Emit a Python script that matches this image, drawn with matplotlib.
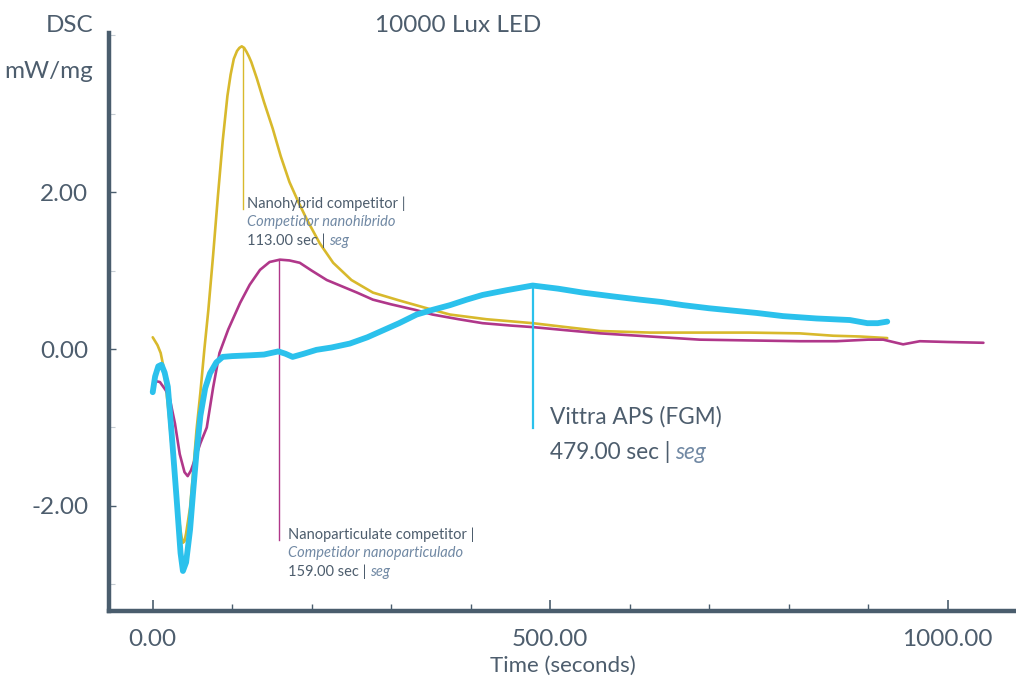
import matplotlib
matplotlib.use("Agg")
import matplotlib.pyplot as plt
from matplotlib.ticker import MultipleLocator
import numpy as np

plt.rcParams['font.family'] = ['Lato', 'DejaVu Sans']

# ---------------- data ----------------
nano_hybrid_t = [0, 6, 10, 14, 20, 26, 32, 36, 38, 40, 42, 47, 51, 55, 60, 65, 70, 76, 82, 88, 94,
                 98, 102, 106, 109, 112, 115, 118, 121, 124, 131, 140, 151, 161, 172, 183, 194,
                 210, 227, 250, 277, 310, 352, 374, 420, 478, 520, 563, 626, 688, 750, 814, 856,
                 890, 924]
nano_hybrid_y = [0.15, 0.05, -0.05, -0.25, -0.8, -1.5, -2.1, -2.38, -2.47, -2.45, -2.35, -2.02,
                 -1.55, -1.04, -0.55, 0.0, 0.5, 1.2, 1.95, 2.65, 3.23, 3.5, 3.7, 3.8, 3.84, 3.86,
                 3.84, 3.79, 3.73, 3.66, 3.45, 3.15, 2.81, 2.46, 2.13, 1.88, 1.65, 1.35, 1.10,
                 0.88, 0.72, 0.62, 0.50, 0.44, 0.38, 0.33, 0.28, 0.23, 0.21, 0.21, 0.21, 0.20,
                 0.17, 0.16, 0.14]

nano_part_t = [4, 9, 16, 21, 28, 34, 40, 44, 48, 54, 60, 68, 76, 84, 95, 110, 122, 135, 147, 160,
               172, 185, 200, 219, 238, 257, 277, 300, 330, 352, 385, 415, 450, 478, 520, 563,
               626, 688, 750, 814, 860, 900, 919, 944, 965, 1000, 1045]
nano_part_y = [-0.41, -0.42, -0.52, -0.61, -0.95, -1.34, -1.57, -1.62, -1.55, -1.38, -1.2, -1.0,
               -0.49, -0.05, 0.25, 0.59, 0.82, 1.01, 1.11, 1.14, 1.13, 1.10, 1.0, 0.88, 0.80,
               0.72, 0.63, 0.57, 0.50, 0.44, 0.38, 0.33, 0.30, 0.28, 0.24, 0.20, 0.16, 0.12,
               0.11, 0.10, 0.10, 0.12, 0.12, 0.06, 0.10, 0.09, 0.08]

vittra_t = [0, 3, 7, 11, 15, 19, 24, 30, 35, 38, 42, 47, 51, 55, 60, 66, 72, 80, 88, 100, 122,
            140, 158, 167, 176, 190, 206, 225, 248, 270, 290, 310, 332, 352, 374, 395, 415, 445,
            478, 510, 541, 580, 613, 640, 667, 700, 730, 760, 793, 835, 877, 899, 912, 924]
vittra_y = [-0.55, -0.35, -0.22, -0.2, -0.3, -0.48, -1.1, -1.9, -2.6, -2.83, -2.72, -2.3, -1.8,
            -1.33, -0.85, -0.5, -0.31, -0.17, -0.1, -0.09, -0.08, -0.07, -0.03, -0.06, -0.1,
            -0.06, -0.01, 0.02, 0.07, 0.15, 0.24, 0.33, 0.44, 0.50, 0.56, 0.63, 0.69, 0.75,
            0.81, 0.77, 0.72, 0.67, 0.63, 0.60, 0.56, 0.52, 0.49, 0.46, 0.42, 0.39, 0.37,
            0.33, 0.33, 0.35]

peak_times = [113, 159, 479]
series_names = ["Nanohybrid competitor |", "Nanoparticulate competitor |", "Vittra APS (FGM)"]
series_names_es = ["Competidor nanohíbrido", "Competidor nanoparticulado", None]

x_ticks_major = [0, 500, 1000]
y_ticks_major = [-2, 0, 2]

title = "10000 Lux LED"
x_label = "Time (seconds)"
y_label_1 = "DSC"
y_label_2 = "mW/mg"

# ---------------- style ----------------
YELLOW = "#d8b92c"
MAGENTA = "#b0378a"
CYAN = "#2bc1ec"
SPINE = "#4a5d6d"
TEXT = "#4d5d6d"
ITAL = "#7189a4"

fig = plt.figure(figsize=(10.16, 6.8), dpi=100)
ax = fig.add_axes([109 / 1016, 69 / 680, 907 / 1016, 578 / 680])

ax.plot(nano_hybrid_t, nano_hybrid_y, color=YELLOW, lw=1.9, solid_capstyle='round',
        solid_joinstyle='round', zorder=3)
ax.plot(nano_part_t, nano_part_y, color=MAGENTA, lw=1.9, solid_capstyle='round',
        solid_joinstyle='round', zorder=4)
ax.plot(vittra_t, vittra_y, color=CYAN, lw=4.2, solid_capstyle='round',
        solid_joinstyle='round', zorder=5)

ax.set_xlim(-55, 1086)
ax.set_ylim(-3.34, 4.03)

for s in ['top', 'right']:
    ax.spines[s].set_visible(False)
for s in ['left', 'bottom']:
    ax.spines[s].set_color(SPINE)
    ax.spines[s].set_linewidth(3.2)

ax.set_xticks(x_ticks_major)
ax.set_xticklabels([f"{v:.2f}" for v in x_ticks_major])
ax.xaxis.set_minor_locator(MultipleLocator(100))
ax.set_yticks(y_ticks_major)
ax.set_yticklabels([f"{v:.2f}" for v in y_ticks_major])
ax.yaxis.set_minor_locator(MultipleLocator(1))

ax.tick_params(axis='x', which='major', direction='in', length=8, width=1.2, color=SPINE,
               labelsize=17.5, labelcolor=TEXT, pad=13)
ax.tick_params(axis='x', which='minor', direction='in', length=5, width=1.0, color=SPINE)
ax.tick_params(axis='y', which='major', direction='in', length=5, width=1.0, color=SPINE,
               labelsize=17.5, labelcolor=TEXT, pad=15)
ax.tick_params(axis='y', which='minor', direction='in', length=4, width=0.8, color="#c5ccd3")

ax.set_xlabel(x_label, fontsize=16, color=TEXT, labelpad=4)

fig.text(458 / 1016, 1 - 26 / 680, title, ha='center', va='center', fontsize=17.5, color=TEXT)
fig.text(93 / 1016, 1 - 26 / 680, y_label_1, ha='right', va='center', fontsize=17.5, color=TEXT)
fig.text(93 / 1016, 1 - 72 / 680, y_label_2, ha='right', va='center', fontsize=17.5, color=TEXT)

# ---------------- annotations ----------------
series = [(nano_hybrid_t, nano_hybrid_y, YELLOW), (nano_part_t, nano_part_y, MAGENTA),
          (vittra_t, vittra_y, CYAN)]
line_bottoms = [1.78, -2.43, -1.01]
line_widths = [1.0, 1.0, 1.6]

for (ts, ys, col), pt, yb, lw in zip(series, peak_times, line_bottoms, line_widths):
    ytop = float(np.interp(pt, ts, ys))
    ax.plot([pt, pt], [yb, ytop], color=col, lw=lw, zorder=6 if col == CYAN else 2)

def small_label(pt, yb, name, name_es, dx, dy_top):
    ax.annotate(name, xy=(pt, yb), xytext=(dx, dy_top), textcoords='offset points',
                ha='left', va='top', fontsize=10.5, color=TEXT, zorder=7)
    ax.annotate(name_es, xy=(pt, yb), xytext=(dx, dy_top - 13.3), textcoords='offset points',
                ha='left', va='top', fontsize=10.5, color=ITAL, style='italic', zorder=7)
    t3 = ax.annotate(f"{pt:.2f} sec |", xy=(pt, yb), xytext=(dx, dy_top - 26.6),
                     textcoords='offset points', ha='left', va='top', fontsize=10.5,
                     color=TEXT, zorder=7)
    ax.annotate("seg", xy=(1, 0), xycoords=t3, xytext=(2.5, 0), textcoords='offset points',
                ha='left', va='bottom', fontsize=10.5, color=ITAL, style='italic', zorder=7)

small_label(peak_times[0], line_bottoms[0], series_names[0], series_names_es[0], 3, 9)
small_label(peak_times[1], line_bottoms[1], series_names[1], series_names_es[1], 6.5, 9)

ax.annotate(series_names[2], xy=(peak_times[2], line_bottoms[2]), xytext=(12, 16),
            textcoords='offset points', ha='left', va='top', fontsize=16.3, color=TEXT,
            zorder=7)
t_big2 = ax.annotate(f"{peak_times[2]:.2f} sec |", xy=(peak_times[2], line_bottoms[2]),
                     xytext=(12, -9.5), textcoords='offset points', ha='left', va='top',
                     fontsize=16.3, color=TEXT, zorder=7)
ax.annotate("seg", xy=(1, 0), xycoords=t_big2, xytext=(3, 0), textcoords='offset points',
            ha='left', va='bottom', fontsize=16.3, color=ITAL, style='italic', zorder=7)

fig.savefig("out.png", dpi=100)
